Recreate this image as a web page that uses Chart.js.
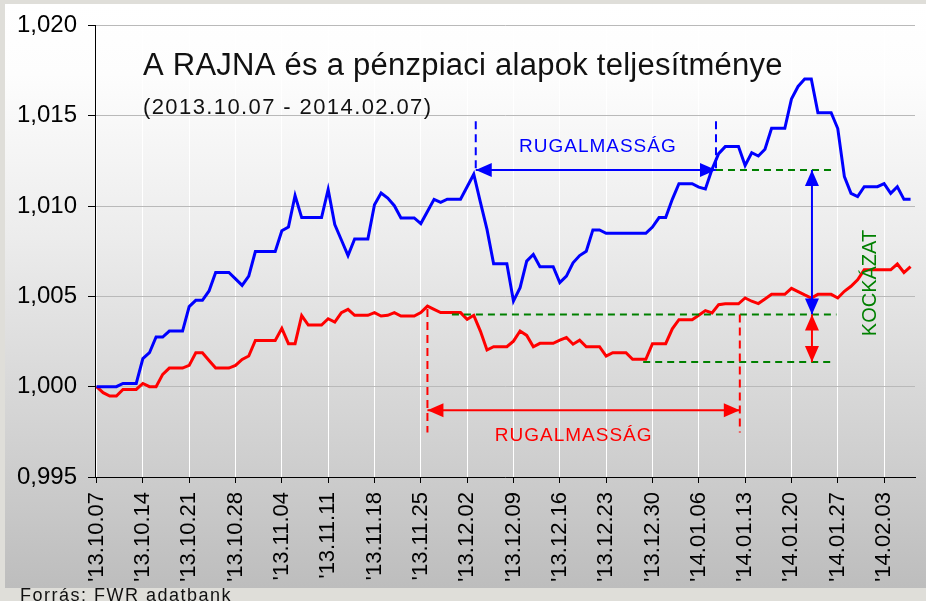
<!DOCTYPE html>
<html lang="hu">
<head>
<meta charset="utf-8">
<title>A RAJNA és a pénzpiaci alapok teljesítménye</title>
<script src="https://cdn.jsdelivr.net/npm/chart.js@4.4.1/dist/chart.umd.min.js"></script>
<style>
  html, body { margin: 0; padding: 0; background: #dfded9; }
  canvas { display: block; }
</style>
</head>
<body>
<canvas id="myChart" width="926" height="601"></canvas>
<script>
// tengely feliratok (hetente)
const tickLabels = ["'13.10.07", "'13.10.14", "'13.10.21", "'13.10.28", "'13.11.04", "'13.11.11",
  "'13.11.18", "'13.11.25", "'13.12.02", "'13.12.09", "'13.12.16", "'13.12.23", "'13.12.30",
  "'14.01.06", "'14.01.13", "'14.01.20", "'14.01.27", "'14.02.03"]

// RAJNA (kek) - napi ertekek 2013.10.07-tol 2014.02.07-ig
const rajna = [
  1.0000, 1.0000, 1.0000, 1.0000, 1.00018, 1.00018, 1.00018,
  1.00155, 1.00188, 1.00275, 1.00275, 1.00308, 1.00308, 1.00308,
  1.00443, 1.00478, 1.00478, 1.0053, 1.00632, 1.00632, 1.00632,
  1.00597, 1.00561, 1.00612, 1.00748, 1.00748, 1.00748, 1.00748,
  1.00863, 1.00884, 1.01058, 1.00936, 1.00936, 1.00936, 1.00936,
  1.01092, 1.00898, 1.00812, 1.00726, 1.00818, 1.00818, 1.00818,
  1.01007, 1.01072, 1.01044, 1.01002, 1.00934, 1.00934, 1.00934,
  1.00903, 1.0097, 1.01037, 1.0102, 1.01038, 1.01038, 1.01038,
  1.01107, 1.01176, 1.01022, 1.00871, 1.0068, 1.0068, 1.0068,
  1.00474, 1.00548, 1.00695, 1.00732, 1.00664, 1.00664, 1.00664,
  1.00576, 1.00612, 1.00686, 1.00726, 1.0075, 1.00868, 1.00868,
  1.00849, 1.00849, 1.00849, 1.00849, 1.00849, 1.00849, 1.00849,
  1.00884, 1.00936, 1.00936, 1.01037, 1.01124, 1.01124, 1.01124,
  1.01105, 1.01095, 1.01203, 1.0129, 1.01329, 1.01329, 1.01329,
  1.01225, 1.01295, 1.01277, 1.01314, 1.0143, 1.0143, 1.0143,
  1.01592, 1.01662, 1.01703, 1.01703, 1.01517, 1.01517, 1.01517,
  1.01429, 1.01163, 1.0107, 1.01052, 1.01107, 1.01107, 1.01107,
  1.01124, 1.0107, 1.01107, 1.01037, 1.01037
]

// penzpiaci alapok (piros)
const penzpiaci = [
  1.0000, 0.99967, 0.99948, 0.99948, 0.99985, 0.99985, 0.99985,
  1.00018, 1.0000, 1.0000, 1.00068, 1.00103, 1.00103, 1.00103,
  1.00118, 1.00188, 1.00188, 1.00145, 1.00103, 1.00103, 1.00103,
  1.00118, 1.00151, 1.0017, 1.00256, 1.00256, 1.00256, 1.00256,
  1.00323, 1.00238, 1.00238, 1.00393, 1.00341, 1.00341, 1.00341,
  1.00376, 1.00358, 1.0041, 1.00428, 1.00395, 1.00395, 1.00395,
  1.0041, 1.00391, 1.00395, 1.0041, 1.00391, 1.00391, 1.00391,
  1.0041, 1.00446, 1.00428, 1.0041, 1.0041, 1.0041, 1.0041,
  1.00373, 1.00395, 1.00308, 1.00203, 1.00221, 1.00221, 1.00221,
  1.00252, 1.00308, 1.00284, 1.00221, 1.0024, 1.0024, 1.0024,
  1.00258, 1.00272, 1.00235, 1.00257, 1.00221, 1.00221, 1.00221,
  1.00169, 1.00188, 1.00188, 1.00188, 1.00152, 1.00152, 1.00152,
  1.00238, 1.00238, 1.00238, 1.0032, 1.00371, 1.00371, 1.00371,
  1.00395, 1.00421, 1.00408, 1.00454, 1.00459, 1.00459, 1.00459,
  1.00491, 1.00473, 1.0046, 1.00485, 1.00511, 1.00511, 1.00511,
  1.00544, 1.00526, 1.00508, 1.00491, 1.00511, 1.00511, 1.00511,
  1.00491, 1.00528, 1.00556, 1.00592, 1.00647, 1.00647, 1.00647,
  1.00647, 1.00647, 1.00679, 1.00632, 1.00665
]

// jelolesek (nap, ertek)
const kekJelek = [57.3, 93.6]          // kek RUGALMASSÁG eleje, vege
const kekJelTeteje = 1.0147
const kekNyilSzint = 1.012
const pirosJelek = [50.0, 97.2]        // piros RUGALMASSÁG eleje, vege
const pirosJelTetejek = [1.0043, 1.0040]
const pirosJelAlja = 0.99747
const pirosNyilSzint = 0.99869
const kockazatNap = 108.1
const kockazatSzintek = [1.012, 1.0040, 1.00136]
const zoldVonalak = [[93.6, 111.2, 1.012], [53.7, 111.8, 1.0040], [82.6, 111.3, 1.00136]]

const betu = '"Liberation Sans", Arial, sans-serif'
Chart.defaults.font.family = betu

function vonal(ctx, x1, y1, x2, y2) {
  ctx.beginPath()
  ctx.moveTo(x1, y1)
  ctx.lineTo(x2, y2)
  ctx.stroke()
}

function nyilhegy(ctx, x, y, szog) {
  ctx.save()
  ctx.translate(x, y)
  ctx.rotate(szog)
  ctx.beginPath()
  ctx.moveTo(0, 0)
  ctx.lineTo(-16, -7)
  ctx.lineTo(-16, 7)
  ctx.closePath()
  ctx.fill()
  ctx.restore()
}

function kettosNyil(ctx, x1, y1, x2, y2, szin) {
  ctx.save()
  ctx.setLineDash([])
  ctx.strokeStyle = szin
  ctx.fillStyle = szin
  ctx.lineWidth = 2
  const szog = Math.atan2(y2 - y1, x2 - x1)
  vonal(ctx, x1, y1, x2, y2)
  nyilhegy(ctx, x2, y2, szog)
  nyilhegy(ctx, x1, y1, szog + Math.PI)
  ctx.restore()
}

const hatter = {
  id: 'hatter',
  beforeDraw(chart) {
    const ctx = chart.ctx
    ctx.save()
    ctx.fillStyle = '#dfded9'
    ctx.fillRect(0, 0, chart.width, chart.height)
    const grad = ctx.createLinearGradient(0, 4, 0, 588)
    grad.addColorStop(0, '#ffffff')
    grad.addColorStop(0.12, '#fdfdfd')
    grad.addColorStop(0.4, '#ececec')
    grad.addColorStop(0.8, '#cdcdcd')
    grad.addColorStop(1, '#bdbdbd')
    ctx.fillStyle = grad
    ctx.fillRect(5, 4, chart.width - 5, 584)
    ctx.restore()
  },
  afterDraw(chart) {
    const ctx = chart.ctx
    ctx.save()
    ctx.fillStyle = '#111'
    ctx.font = '18px ' + betu
    ctx.letterSpacing = '1.5px'
    ctx.textBaseline = 'alphabetic'
    ctx.fillText('Forrás: FWR adatbank', 20, 601)
    ctx.restore()
  }
}

const jelolesek = {
  id: 'jelolesek',
  afterDatasetsDraw(chart) {
    const {ctx, chartArea, scales: {x, y}} = chart
    const px = v => x.getPixelForValue(v)
    const py = v => y.getPixelForValue(v)
    ctx.save()
    ctx.lineWidth = 2

    // zold szaggatott szintek
    ctx.strokeStyle = '#008000'
    ctx.setLineDash([7, 5])
    zoldVonalak.forEach(([a, b, v]) => vonal(ctx, px(a), py(v), px(b), py(v)))

    // kek szaggatott fuggolegesek
    ctx.strokeStyle = '#0000ff'
    ctx.setLineDash([8, 5])
    kekJelek.forEach(n => vonal(ctx, px(n), py(kekJelTeteje), px(n), py(kekNyilSzint)))

    // piros szaggatott fuggolegesek
    ctx.strokeStyle = '#ff0000'
    pirosJelek.forEach((n, i) => vonal(ctx, px(n), py(pirosJelTetejek[i]), px(n), py(pirosJelAlja)))

    // nyilak
    kettosNyil(ctx, px(kekJelek[0]), py(kekNyilSzint), px(kekJelek[1]), py(kekNyilSzint), '#0000ff')
    kettosNyil(ctx, px(pirosJelek[0]), py(pirosNyilSzint), px(pirosJelek[1]), py(pirosNyilSzint), '#ff0000')
    kettosNyil(ctx, px(kockazatNap), py(kockazatSzintek[0]), px(kockazatNap), py(kockazatSzintek[1]), '#0000ff')
    kettosNyil(ctx, px(kockazatNap), py(kockazatSzintek[1]), px(kockazatNap), py(kockazatSzintek[2]), '#ff0000')

    // feliratok
    ctx.setLineDash([])
    ctx.textAlign = 'center'
    ctx.textBaseline = 'alphabetic'
    ctx.font = '19px ' + betu
    ctx.letterSpacing = '1px'
    ctx.fillStyle = '#0000ff'
    ctx.fillText('RUGALMASSÁG', (px(kekJelek[0]) + px(kekJelek[1])) / 2 + 2, py(kekNyilSzint) - 18)
    ctx.fillStyle = '#ff0000'
    ctx.fillText('RUGALMASSÁG', (px(pirosJelek[0]) + px(pirosJelek[1])) / 2 - 10, py(pirosNyilSzint) + 31)

    ctx.save()
    ctx.fillStyle = '#008000'
    ctx.font = '20px ' + betu
    ctx.letterSpacing = '0px'
    ctx.translate(px(kockazatNap) + 64, (py(kockazatSzintek[0]) + py(kockazatSzintek[2])) / 2 + 17)
    ctx.rotate(-Math.PI / 2)
    ctx.fillText('KOCKÁZAT', 0, 0)
    ctx.restore()

    // cim
    ctx.textAlign = 'left'
    ctx.fillStyle = '#111'
    ctx.letterSpacing = '0.25px'
    ctx.font = '31px ' + betu
    ctx.fillText('A RAJNA és a pénzpiaci alapok teljesítménye', chartArea.left + 48, chartArea.top + 50)
    ctx.font = '22px ' + betu
    ctx.letterSpacing = '1.4px'
    ctx.fillText('(2013.10.07 - 2014.02.07)', chartArea.left + 48, chartArea.top + 89)
    ctx.restore()
  }
}

const pontok = sor => sor.map((v, i) => ({x: i, y: v}))

const config = {
  type: 'line',
  data: {
    datasets: [
      {label: 'RAJNA', data: pontok(rajna), borderColor: '#0000ff', borderWidth: 3, pointRadius: 0, tension: 0},
      {label: 'Pénzpiaci alapok', data: pontok(penzpiaci), borderColor: '#ff0000', borderWidth: 3, pointRadius: 0, tension: 0}
    ]
  },
  options: {
    responsive: false,
    animation: false,
    layout: {padding: {top: 25, right: 11, bottom: 0, left: 0}},
    plugins: {legend: {display: false}, tooltip: {enabled: false}},
    scales: {
      x: {
        type: 'linear',
        min: -0.23,
        max: 123.67,
        afterBuildTicks: s => { s.ticks = tickLabels.map((l, i) => ({value: i * 7})) },
        afterFit: s => { s.height = 124 },
        ticks: {
          autoSkip: false,
          minRotation: 90,
          maxRotation: 90,
          padding: 9,
          color: '#000',
          font: {size: 22},
          callback: v => tickLabels[Math.round(v / 7)]
        },
        grid: {color: '#ffffff', lineWidth: 1, tickColor: '#000', tickLength: 6},
        border: {color: '#000', width: 1}
      },
      y: {
        min: 0.995,
        max: 1.02,
        afterFit: s => { s.width = 95 },
        ticks: {
          stepSize: 0.005,
          padding: 11,
          color: '#000',
          font: {size: 24},
          callback: v => v.toFixed(3).replace('.', ',')
        },
        grid: {color: '#b9b9b9', lineWidth: 1, tickColor: '#000', tickLength: 7},
        border: {color: '#000', width: 1}
      }
    }
  },
  plugins: [hatter, jelolesek]
}

const myChart = new Chart(document.querySelector('#myChart'), config)
</script>
</body>
</html>
